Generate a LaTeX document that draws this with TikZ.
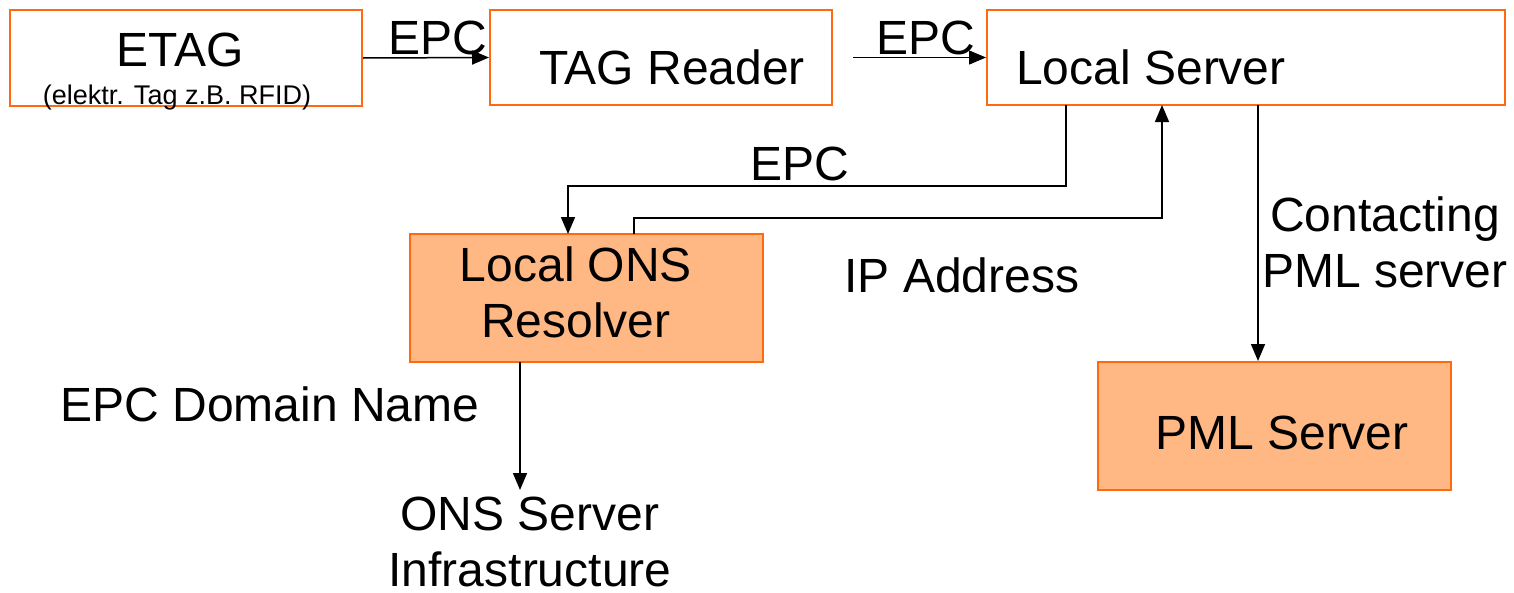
\documentclass[tikz,border=0pt]{standalone}
\usepackage{fontspec}
\setmainfont{Liberation Sans}
\usetikzlibrary{arrows.meta}
\definecolor{boxline}{HTML}{FF6A10}
\definecolor{boxfill}{HTML}{FFB784}
\begin{document}
\begin{tikzpicture}[x=1pt,y=-1pt,
    box/.style={draw=boxline,line width=2pt,rectangle,inner sep=0pt},
    txt/.style={anchor=base,align=center,inner sep=0pt,font=\fontsize{48}{56}\selectfont},
    small/.style={anchor=base,inner sep=0pt,font=\fontsize{27}{30}\selectfont},
    arr/.style={line width=1.5pt,-{Triangle[length=17pt,width=14pt]}}]

  \useasboundingbox (0,0) rectangle (1514,592);

  % boxes
  \begin{scope}[every node/.style={box}]
    \node (etag)   [minimum width=352pt,minimum height=96pt] at (186,58)  {};
    \node (reader) [minimum width=342pt,minimum height=95pt] at (661,57.5) {};
    \node (server) [minimum width=518pt,minimum height=95pt] at (1246,57.5) {};
    \node (ons)    [fill=boxfill,minimum width=353pt,minimum height=128pt] at (586.5,298) {};
    \node (pml)    [fill=boxfill,minimum width=353pt,minimum height=128pt] at (1274.5,426) {};
  \end{scope}

  % texts
  \node (etagtxt)  [txt]   at (180,66)   {ETAG};
  \node (etagsub)  [small] at (177,104)  {(elektr. Tag z.B. RFID)};
  \node (readtxt)  [txt]   at (672,84)   {TAG Reader};
  \node (servtxt)  [txt]   at (1151,84)  {Local Server};
  \node (onstxt)   [txt]   at (576,337)  {Local ONS\\Resolver};
  \node (pmltxt)   [txt]   at (1282,449) {PML Server};
  \node (infra)    [txt]   at (530,586)  {ONS Server\\Infrastructure};
  \node (epcone)   [txt]   at (438,54)   {EPC};
  \node (epctwo)   [txt]   at (926,54)   {EPC};
  \node (epcthree) [txt]   at (800,180)  {EPC};
  \node (ipaddr)   [txt]   at (962,292)  {IP Address};
  \node (contact)  [txt]   at (1385,287) {Contacting\\PML server};
  \node (domain)   [txt]   at (270,421)  {EPC Domain Name};

  % connector ends
  \coordinate (s1) at (1066,105);
  \coordinate (s2) at (1162,105);
  \coordinate (s3) at (1258,105);
  \coordinate (o1) at (568,234);
  \coordinate (o2) at (634,234);
  \coordinate (o3) at (520,362);
  \coordinate (i1) at (520,490);

  % connectors
  \draw[arr] (etag.east) -- (reader.west);
  \draw[arr] ([xshift=20pt]reader.east) -- (server.west);
  \draw[arr] (s1) -- ++(0,81) -| (o1);
  \draw[arr] (o2) -- ++(0,-16) -| (s2);
  \draw[arr] (s3) -- (s3 |- pml.north);
  \draw[arr] (o3) -- (i1);

\end{tikzpicture}
\end{document}
